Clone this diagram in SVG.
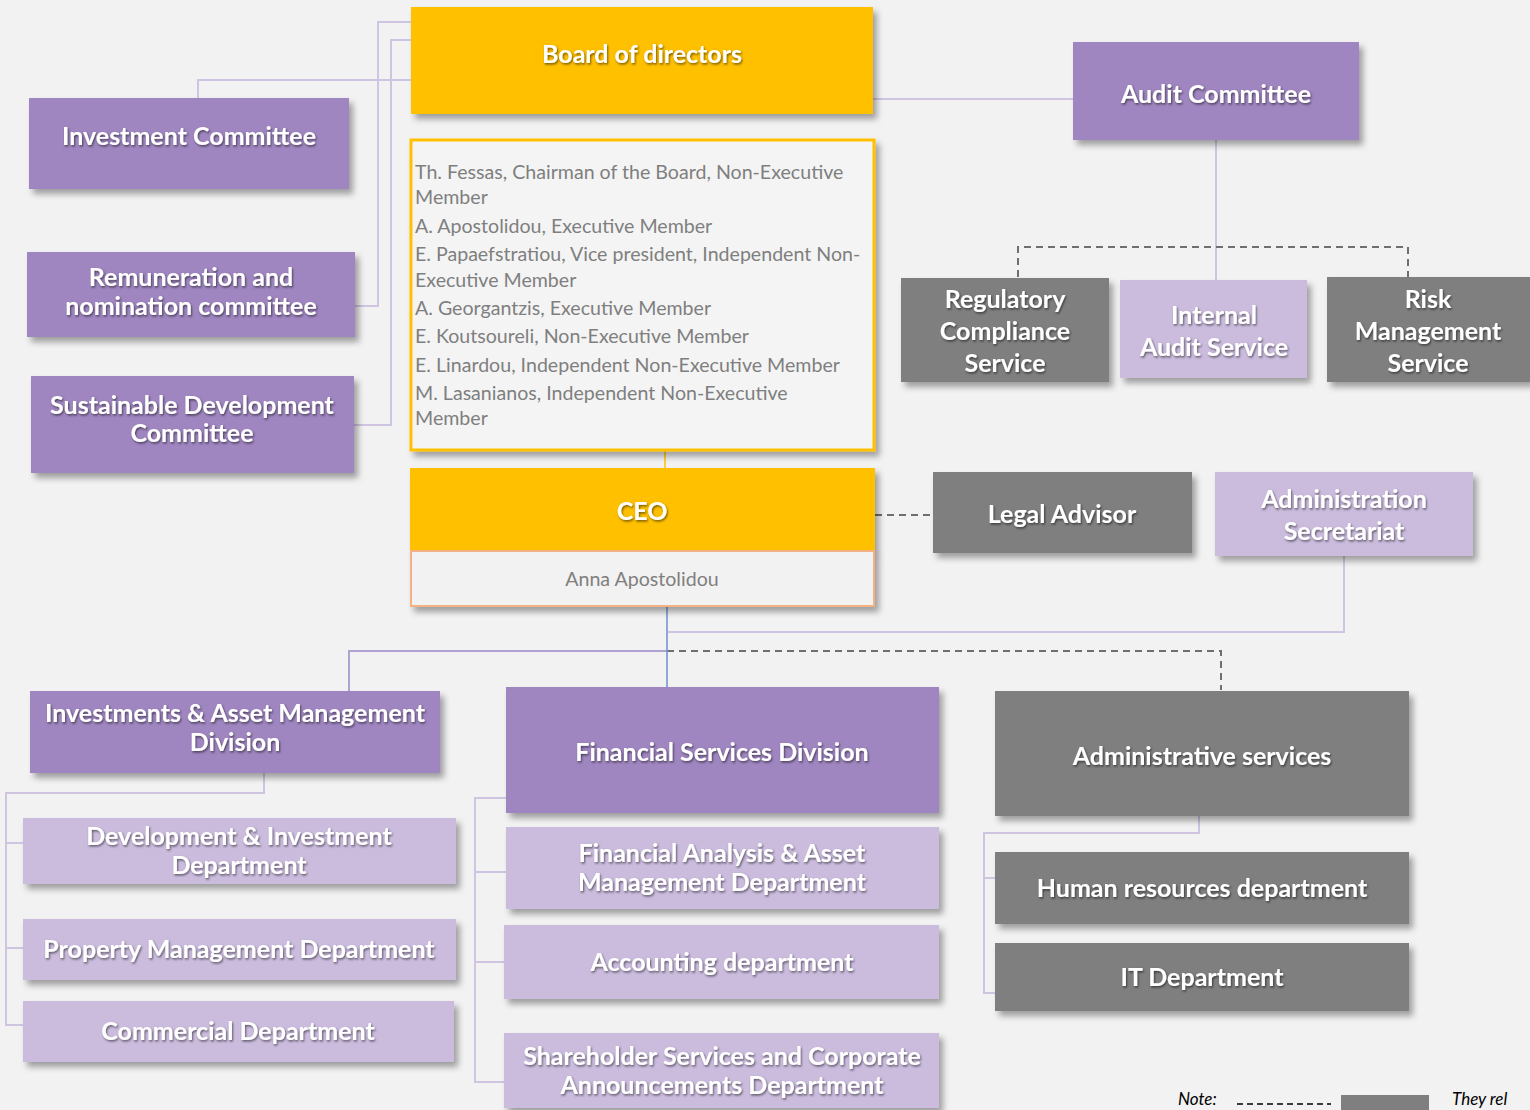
<svg xmlns="http://www.w3.org/2000/svg" width="1530" height="1110" viewBox="0 0 1530 1110">
<defs>
<filter id="sh" x="-10%" y="-10%" width="125%" height="135%">
<feDropShadow dx="4" dy="5" stdDeviation="3" flood-color="#000" flood-opacity="0.35"/>
</filter>
<filter id="ts" x="-5%" y="-20%" width="110%" height="150%">
<feDropShadow dx="1" dy="1.5" stdDeviation="1" flood-color="#000" flood-opacity="0.55"/>
</filter>
<style>
.t{font-family:Lato,"Liberation Sans",sans-serif;font-weight:bold;font-size:25px;fill:#fff;text-anchor:middle;filter:url(#ts)}
.m{font-family:Lato,"Liberation Sans",sans-serif;font-size:19.6px;fill:#7f7f7f}
.pu{fill:#9f86c0;filter:url(#sh)}
.lv{fill:#cbbcde;filter:url(#sh)}
.gr{fill:#7f7f7f;filter:url(#sh)}
.go{fill:#ffc000;filter:url(#sh)}
.c{fill:none;stroke:#cfc5e3;stroke-width:2}
.cd{fill:none;stroke:#b0a3d4;stroke-width:2}
.d{fill:none;stroke:#6f6f6f;stroke-width:2;stroke-dasharray:7 5}
.n{font-family:Lato,"Liberation Sans",sans-serif;font-style:italic;font-size:17px;fill:#000}
</style>
</defs>
<rect width="1530" height="1110" fill="#f2f2f2"/>

<g id="connectors">
<path class="c" d="M198 98 V80 H411"/>
<path class="c" d="M355 306 H378 V22 H411"/>
<path class="c" d="M354 425 H391 V40 H411"/>
<path class="c" d="M873 99 H1073"/>
<path class="c" d="M1216 140 V280"/>
<path class="d" d="M1018 277 V247 H1408 V277"/>
<path fill="none" stroke="#ffc000" stroke-width="1.5" d="M665 451 V468"/>
<path class="d" d="M875 515 H933"/>
<path class="c" d="M1344 556 V632 H668"/>
<path class="cd" d="M349 691 V651 H667"/>
<path class="d" d="M667 651 H1221 V690"/>
<path fill="none" stroke="#6f8fd0" stroke-width="1.5" d="M667 606 V687"/>
<path class="c" d="M264 773 V793 H6 V1025 H23 M6 843 H23 M6 948 H23"/>
<path class="c" d="M506 798 H475 V1082 H504 M475 872 H506 M475 962 H504"/>
<path class="c" d="M1199 816 V833 H984 V993 H995 M984 878 H995"/>
</g>

<g id="board">
<rect class="go" x="411" y="7" width="462" height="107"/>
<text class="t" x="642" y="63">Board of directors</text>
</g>
<g id="board-members">
<rect x="411" y="140" width="463" height="310" fill="#f4f4f4" stroke="#ffc000" stroke-width="3" filter="url(#sh)"/>
<text class="m" x="415" y="179">Th. Fessas, Chairman of the Board, Non-Executive</text>
<text class="m" x="415" y="204">Member</text>
<text class="m" x="415" y="233">A. Apostolidou, Executive Member</text>
<text class="m" x="415" y="261">E. Papaefstratiou, Vice president, Independent Non-</text>
<text class="m" x="415" y="287">Executive Member</text>
<text class="m" x="415" y="315">A. Georgantzis, Executive Member</text>
<text class="m" x="415" y="343">E. Koutsoureli, Non-Executive Member</text>
<text class="m" x="415" y="372">E. Linardou, Independent Non-Executive Member</text>
<text class="m" x="415" y="400">M. Lasanianos, Independent Non-Executive</text>
<text class="m" x="415" y="425">Member</text>
</g>
<g id="audit-committee">
<rect class="pu" x="1073" y="42" width="286" height="98"/>
<text class="t" x="1216" y="103">Audit Committee</text>
</g>
<g id="investment-committee">
<rect class="pu" x="29" y="98" width="320" height="91"/>
<text class="t" x="189" y="145">Investment Committee</text>
</g>
<g id="remuneration-committee">
<rect class="pu" x="27" y="252" width="328" height="85"/>
<text class="t" x="191" y="286">Remuneration and</text>
<text class="t" x="191" y="315">nomination committee</text>
</g>
<g id="sustainable-committee">
<rect class="pu" x="31" y="376" width="323" height="97"/>
<text class="t" x="192" y="414">Sustainable Development</text>
<text class="t" x="192" y="442">Committee</text>
</g>
<g id="regulatory-compliance">
<rect class="gr" x="901" y="278" width="208" height="104"/>
<text class="t" x="1005" y="308">Regulatory</text>
<text class="t" x="1005" y="340">Compliance</text>
<text class="t" x="1005" y="372">Service</text>
</g>
<g id="internal-audit">
<rect class="lv" x="1120" y="280" width="187" height="98"/>
<text class="t" x="1214" y="324">Internal</text>
<text class="t" x="1214" y="356">Audit Service</text>
</g>
<g id="risk-management">
<rect class="gr" x="1327" y="277" width="203" height="105"/>
<text class="t" x="1428" y="308">Risk</text>
<text class="t" x="1428" y="340">Management</text>
<text class="t" x="1428" y="372">Service</text>
</g>
<g id="ceo">
<rect class="go" x="410" y="468" width="465" height="83"/>
<text class="t" x="642" y="520">CEO</text>
<rect x="411" y="551" width="463" height="55" fill="#f2f2f2" stroke="#f4b183" stroke-width="2" filter="url(#sh)"/>
<text class="m" x="642" y="586" text-anchor="middle">Anna Apostolidou</text>
</g>
<g id="legal-advisor">
<rect class="gr" x="933" y="472" width="259" height="81"/>
<text class="t" x="1062" y="523">Legal Advisor</text>
</g>
<g id="admin-secretariat">
<rect class="lv" x="1215" y="472" width="258" height="84"/>
<text class="t" x="1344" y="508">Administration</text>
<text class="t" x="1344" y="540">Secretariat</text>
</g>
<g id="investments-division">
<rect class="pu" x="30" y="691" width="410" height="82"/>
<text class="t" x="235" y="722">Investments &amp; Asset Management</text>
<text class="t" x="235" y="751">Division</text>
</g>
<g id="development-dept">
<rect class="lv" x="23" y="818" width="433" height="66"/>
<text class="t" x="239" y="845">Development &amp; Investment</text>
<text class="t" x="239" y="874">Department</text>
</g>
<g id="property-dept">
<rect class="lv" x="23" y="919" width="433" height="61"/>
<text class="t" x="239" y="958">Property Management Department</text>
</g>
<g id="commercial-dept">
<rect class="lv" x="23" y="1001" width="431" height="61"/>
<text class="t" x="238" y="1040">Commercial Department</text>
</g>
<g id="financial-division">
<rect class="pu" x="506" y="687" width="433" height="126"/>
<text class="t" x="722" y="761">Financial Services Division</text>
</g>
<g id="financial-analysis-dept">
<rect class="lv" x="506" y="827" width="433" height="82"/>
<text class="t" x="722" y="862">Financial Analysis &amp; Asset</text>
<text class="t" x="722" y="891">Management Department</text>
</g>
<g id="accounting-dept">
<rect class="lv" x="504" y="925" width="435" height="74"/>
<text class="t" x="722" y="971">Accounting department</text>
</g>
<g id="shareholder-dept">
<rect class="lv" x="504" y="1033" width="435" height="75"/>
<text class="t" x="722" y="1065">Shareholder Services and Corporate</text>
<text class="t" x="722" y="1094">Announcements Department</text>
</g>
<g id="administrative-services">
<rect class="gr" x="995" y="691" width="414" height="125"/>
<text class="t" x="1202" y="765">Administrative services</text>
</g>
<g id="hr-dept">
<rect class="gr" x="995" y="852" width="414" height="72"/>
<text class="t" x="1202" y="897">Human resources department</text>
</g>
<g id="it-dept">
<rect class="gr" x="995" y="943" width="414" height="68"/>
<text class="t" x="1202" y="986">IT Department</text>
</g>
<g id="note">
<text class="n" x="1178" y="1105">Note:</text>
<path d="M1237 1104 H1331" stroke="#000" stroke-width="1.5" stroke-dasharray="6 4"/>
<rect x="1341" y="1095" width="88" height="15" fill="#7f7f7f"/>
<text class="n" x="1452" y="1105">They rel</text>
</g>
</svg>
